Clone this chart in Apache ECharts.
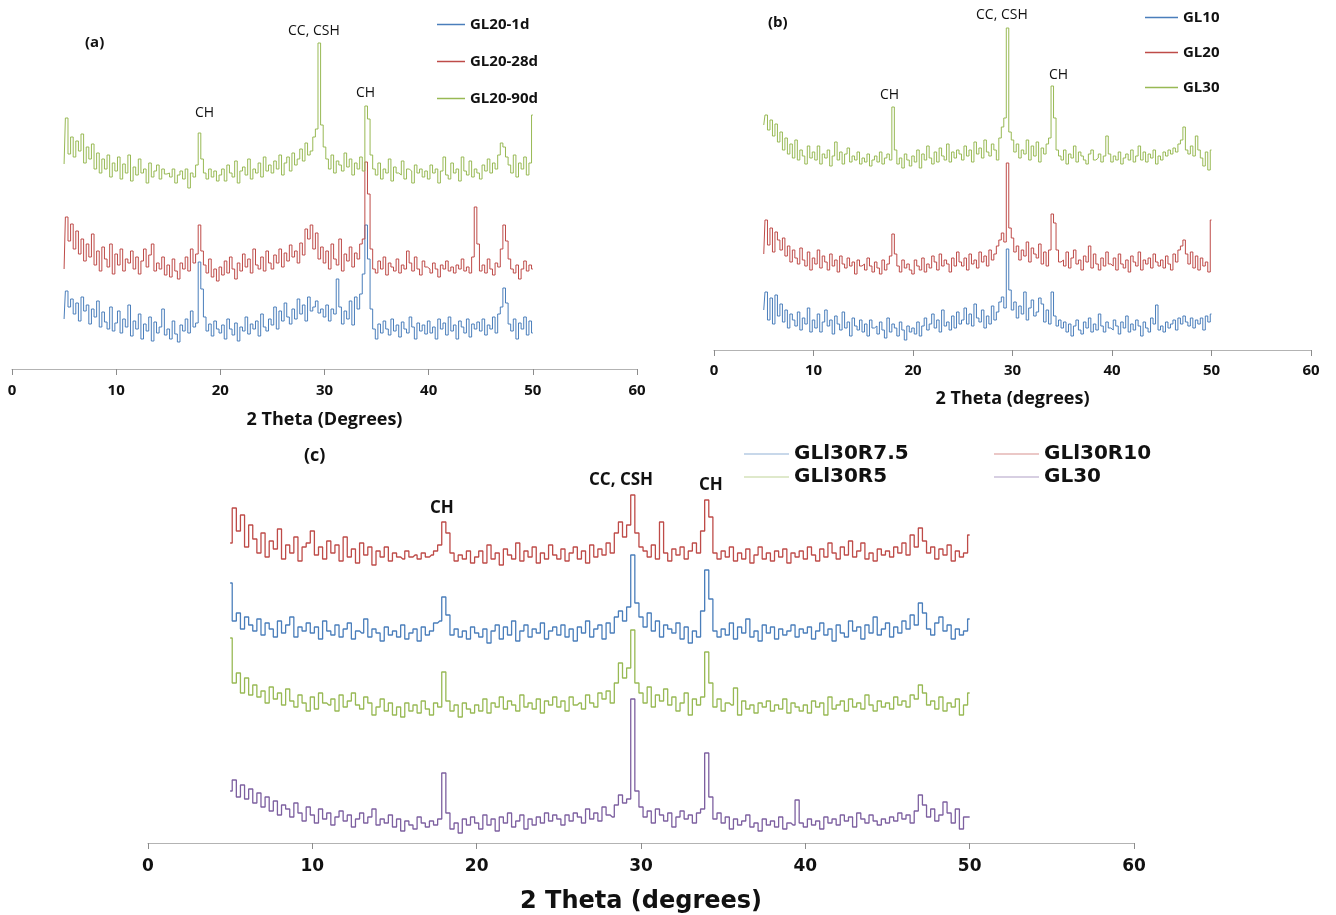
<!DOCTYPE html>
<html><head><meta charset="utf-8">
<script src="https://cdn.jsdelivr.net/npm/echarts@6/dist/echarts.min.js"></script>
<style>html,body{margin:0;padding:0;background:#fff}#c{width:1336px;height:915px}</style>
</head><body><div id="c"></div>
<script>
// 2-theta grid: 5..50 step 0.25 (181 points)
const THETA_START = 5, THETA_STEP = 0.25, THETA_COUNT = 181;
const xTicks = [0, 10, 20, 30, 40, 50, 60];

// Panel (a) – intensity (arbitrary, offset units)
const gl20_1d = [
50,78,62,70,55,66,48,72,58,64,45,60,52,68,42,57,47,40,62,38,
46,58,36,50,42,64,33,48,40,55,30,45,38,52,28,47,36,42,60,34,
40,30,48,35,27,44,38,50,36,58,42,46,107,80,52,38,45,33,48,40,
36,44,30,50,40,34,46,28,42,38,52,35,45,40,48,33,55,42,38,50,
44,62,40,58,48,66,52,45,60,50,70,55,64,48,72,58,62,68,56,60,
52,64,48,60,55,90,62,45,58,50,68,44,72,60,75,95,144,110,60,40,
30,45,36,48,40,34,50,38,44,32,47,40,36,52,42,30,46,38,44,35,
48,36,42,30,50,40,46,34,52,38,44,30,48,42,36,50,32,45,40,47,
38,50,34,44,40,52,36,55,62,81,66,45,38,50,30,46,40,52,34,48,
36];
const gl20_28d = [
100,152,128,145,120,138,115,130,108,125,112,135,104,118,98,122,110,102,125,95,
115,104,120,98,110,106,118,100,112,95,108,120,102,114,125,98,106,100,112,94,
104,92,110,98,90,106,100,112,98,120,106,115,144,118,104,96,110,92,100,88,
102,94,108,96,112,100,90,106,98,115,102,110,96,120,104,100,112,98,118,106,
100,114,106,120,102,116,108,124,112,118,106,126,114,140,130,144,120,136,110,122,
106,118,100,125,110,104,130,98,115,108,122,102,116,110,125,130,207,175,120,100,
96,108,100,112,94,106,102,98,110,96,104,100,118,106,98,112,100,94,108,102,
100,96,106,100,92,104,100,108,98,102,96,104,100,110,98,102,96,112,162,125,
98,104,96,110,100,94,106,102,120,144,128,110,100,96,104,90,100,108,98,104,
100];
const gl20_90d = [
205,251,215,232,212,228,218,235,206,222,210,225,200,216,196,210,200,214,192,206,
198,212,190,205,196,214,188,202,194,210,196,200,186,206,192,198,204,190,200,195,
196,192,200,186,194,198,190,200,181,196,192,204,236,210,196,190,200,192,198,188,
194,200,188,204,196,192,208,186,198,202,194,210,190,200,196,206,192,212,198,204,
196,208,200,214,194,206,212,198,216,204,210,220,208,226,214,218,232,240,326,244,
222,210,200,214,196,208,204,198,216,202,210,194,206,200,212,198,263,250,214,200,
194,206,190,200,196,210,188,202,196,194,208,190,200,198,186,204,196,200,192,198,
190,204,196,200,186,198,212,194,190,206,196,200,188,212,198,194,208,192,200,196,
190,204,198,210,196,206,200,214,226,222,212,204,196,214,192,206,200,212,194,206,
254];

// Panel (b)
const gl10 = [
40,58,30,52,26,55,34,46,28,40,22,36,30,24,38,20,32,26,42,18,
30,22,36,18,28,40,24,30,16,34,26,20,38,22,28,14,32,24,20,30,
18,26,14,30,22,24,16,28,20,12,32,18,26,22,14,28,20,10,24,18,
22,16,28,14,24,32,20,26,36,22,30,18,40,24,28,20,34,22,38,26,
30,42,26,36,24,46,32,28,40,22,34,26,44,30,38,48,53,42,101,60,
40,48,32,44,36,58,30,42,50,34,38,52,46,28,40,26,58,34,24,30,
22,28,18,26,14,24,30,20,16,28,22,32,18,26,20,36,24,18,28,22,
20,30,24,16,28,22,34,18,26,20,30,24,14,28,22,18,32,26,45,20,
24,18,28,22,26,30,20,32,26,34,28,24,32,22,30,26,32,20,34,28,
36];
const gl20 = [
96,130,105,122,98,118,110,100,112,94,104,88,100,92,86,102,90,84,98,80,
92,86,100,82,94,88,80,96,84,90,78,94,86,82,92,84,88,76,90,84,
86,80,92,84,78,88,82,76,90,80,86,94,116,96,84,78,90,82,86,80,
76,90,84,80,92,78,86,82,94,88,80,96,84,90,86,78,92,84,98,88,
84,92,80,96,86,90,82,98,88,94,84,100,90,96,104,110,117,108,187,122,
112,98,104,90,100,94,108,88,102,96,92,106,86,98,84,100,136,127,100,88,
90,84,98,82,92,100,86,90,80,94,88,104,82,96,86,80,92,84,98,86,
84,92,80,96,86,82,90,78,94,88,84,98,80,90,86,92,82,96,88,84,
90,82,94,86,80,96,88,100,104,110,96,86,98,82,94,80,92,84,88,78,
130];
const gl30b = [
225,235,220,230,214,226,208,218,200,212,196,206,192,210,190,200,194,186,204,192,
198,190,204,186,196,192,200,184,194,208,190,198,186,196,202,188,194,190,198,186,
192,188,196,184,190,194,188,198,186,192,196,190,243,200,186,192,182,196,190,184,
194,188,200,182,196,190,204,192,186,198,188,202,194,190,206,188,198,192,200,196,
190,204,194,200,188,208,196,202,192,210,198,194,206,200,190,212,223,232,322,218,
210,198,206,192,200,196,210,190,204,194,208,188,202,196,206,212,264,232,200,194,
190,200,186,196,192,204,188,198,194,190,186,196,200,190,192,196,188,194,214,196,
188,194,190,198,186,192,196,190,200,188,194,204,190,198,188,196,192,200,186,194,
190,198,194,200,196,202,198,206,210,223,200,196,204,194,214,200,192,184,198,180,
200];

// Panel (c)
const gl30c = [
52,63,46,58,44,54,40,50,36,46,32,42,28,38,34,26,40,30,22,36,
28,20,34,24,30,18,26,32,22,28,16,24,30,20,26,34,18,24,20,28,
16,24,12,22,18,14,26,20,16,22,18,24,70,30,14,20,10,24,18,26,
20,14,28,18,24,12,26,20,30,16,22,28,14,24,18,26,20,30,22,28,
24,18,28,22,30,26,20,34,24,30,22,36,28,26,38,48,40,44,144,52,
36,26,32,20,34,28,22,30,16,26,32,24,28,20,30,34,90,46,24,30,
20,26,14,24,18,22,28,16,20,12,24,18,22,16,26,14,20,18,43,20,
16,24,18,22,14,26,20,24,18,28,22,26,16,30,24,20,28,22,18,24,
20,26,22,30,24,28,20,32,48,38,26,34,22,28,41,30,20,34,14,26,
26];
const gll30r5 = [
205,160,170,150,165,148,158,146,152,140,156,144,150,138,154,142,136,148,140,132,
146,134,150,140,138,144,132,148,136,142,150,138,134,146,140,128,136,144,132,140,
128,136,126,140,132,138,130,142,134,128,140,136,171,142,132,138,126,140,134,130,
138,132,144,130,140,136,146,134,142,138,132,148,136,140,134,144,130,142,138,146,
136,142,132,146,138,140,134,148,140,136,150,144,152,140,160,180,165,175,213,160,
150,140,156,136,148,142,154,138,146,132,140,150,128,144,138,146,191,160,136,144,
132,140,138,155,128,142,134,138,130,140,136,142,132,138,134,144,130,140,136,132,
138,130,142,136,140,128,146,134,138,142,132,144,136,140,134,148,138,132,142,136,
140,134,146,138,142,136,148,144,158,150,138,142,134,146,132,140,136,144,128,138,
150];
const gll30r75 = [
260,222,230,214,226,218,212,224,208,220,214,206,222,210,218,226,206,216,212,220,
210,216,204,222,212,208,218,206,214,220,204,212,210,224,206,214,210,202,216,208,
212,206,218,204,210,214,202,216,208,212,220,222,246,228,208,214,206,212,204,216,
210,206,214,200,212,218,204,216,208,222,202,212,218,206,214,210,220,204,212,216,
208,218,206,214,202,216,210,222,206,214,218,204,220,210,226,232,222,236,288,240,
226,216,230,212,222,206,218,214,210,220,204,216,200,212,206,232,273,244,212,206,
214,208,220,204,216,210,224,206,212,202,218,210,216,204,214,208,212,218,206,214,
210,216,204,212,220,208,214,202,218,210,206,222,212,216,204,218,210,226,208,214,
220,206,216,210,222,214,228,218,240,230,214,208,220,226,212,218,204,214,208,212,
224];
const gll30r10 = [
300,335,312,328,296,318,304,290,310,286,302,294,314,284,298,290,306,282,296,300,
312,288,296,284,302,290,298,282,306,286,294,280,300,288,296,278,292,286,296,282,
290,286,284,292,286,288,284,290,286,288,292,298,321,310,290,282,288,284,292,280,
286,292,280,298,284,290,278,294,288,284,300,282,292,286,296,280,290,284,298,288,
284,294,282,290,296,284,292,280,298,286,294,288,300,290,310,321,306,318,348,310,
296,292,286,298,284,321,290,282,294,288,296,284,292,300,290,312,343,326,290,284,
292,286,296,282,290,284,294,280,288,296,284,290,282,292,286,294,280,290,286,292,
284,296,288,282,294,286,300,290,284,296,288,302,286,292,300,284,290,282,294,288,
292,286,296,290,300,288,308,296,315,302,290,296,284,294,288,298,282,292,286,290,
308];

const C_BLUE = '#4a7ebb', C_RED = '#be4b48', C_GREEN = '#98b954', C_PURPLE = '#7d60a0';

const theta = [];
for (let i = 0; i < THETA_COUNT; i++) theta.push(+(THETA_START + i * THETA_STEP).toFixed(2));
const pairs = arr => arr.map((v, i) => [theta[i], v]);

const fontAB = 'Open Sans';
const fontC = 'DejaVu Sans';

function xAxis(gi, title, fs, ff, nameFs, margin, nameGap) {
  return {
    gridIndex: gi, type: 'value', min: 0, max: 60, interval: 10,
    axisLine: { show: true, lineStyle: { color: '#b3b3b3', width: 1.2 } },
    axisTick: { show: true, length: 6, lineStyle: { color: '#8c8c8c' } },
    splitLine: { show: false },
    axisLabel: { fontFamily: ff, fontWeight: 'bold', fontSize: fs, color: '#111', margin: margin,
      formatter: v => xTicks.includes(v) ? String(v) : '' },
    name: title, nameLocation: 'middle', nameGap: nameGap,
    nameTextStyle: { fontFamily: ff, fontWeight: 'bold', fontSize: nameFs, color: '#111' }
  };
}
function yAxis(gi, max) {
  return { gridIndex: gi, type: 'value', min: 0, max: max, show: false, splitLine: { show: false } };
}
function line(name, data, color, xi, w) {
  return { name, type: 'line', xAxisIndex: xi, yAxisIndex: xi, data: pairs(data),
    showSymbol: false, symbol: 'none', smooth: false, step: 'middle', animation: false,
    lineStyle: { color, width: w }, itemStyle: { color } };
}
function txt(x, y, s, fs, ff, bold) {
  return { type: 'text', left: x, top: y, style: { text: s, fill: '#111', font: (bold ? 'bold ' : '') + fs + 'px "' + ff + '"' } };
}

const chart = echarts.init(document.getElementById('c'), null, { renderer: 'canvas' });
chart.setOption({
  animation: false,
  backgroundColor: '#fff',
  grid: [
    { left: 12, top: 19, width: 625, height: 350 },
    { left: 714, top: 0, width: 597, height: 350 },
    { left: 148, top: 483, width: 986, height: 360 }
  ],
  xAxis: [
    xAxis(0, '2 Theta (Degrees)', 15, fontAB, 18, 14, 42),
    xAxis(1, '2 Theta (degrees)', 15, fontAB, 18, 13, 40),
    xAxis(2, '2 Theta (degrees)', 17, fontC, 24, 15, 47)
  ],
  yAxis: [yAxis(0, 350), yAxis(1, 350), yAxis(2, 360)],
  legend: [
    { data: ['GL20-1d', 'GL20-28d', 'GL20-90d'], orient: 'vertical', left: 432, top: 12, itemGap: 22,
      icon: 'rect', itemWidth: 28, itemHeight: 1.5,
      textStyle: { fontFamily: fontAB, fontWeight: 'bold', fontSize: 15, color: '#111' } },
    { data: ['GL10', 'GL20', 'GL30 '], orient: 'vertical', left: 1140, top: 5, itemGap: 20,
      icon: 'rect', itemWidth: 33, itemHeight: 1.5,
      textStyle: { fontFamily: fontAB, fontWeight: 'bold', fontSize: 15, color: '#111' } },
    { data: ['GLl30R7.5', 'GLl30R5'], orient: 'vertical', left: 739, top: 439, itemGap: 3,
      icon: 'rect', itemWidth: 45, itemHeight: 1, itemStyle: { opacity: 0.6 },
      textStyle: { fontFamily: fontC, fontWeight: 'bold', fontSize: 20, color: '#111' } },
    { data: ['GLl30R10', 'GL30'], orient: 'vertical', left: 989, top: 439, itemGap: 3,
      icon: 'rect', itemWidth: 45, itemHeight: 1, itemStyle: { opacity: 0.6 },
      textStyle: { fontFamily: fontC, fontWeight: 'bold', fontSize: 20, color: '#111' } }
  ],
  series: [
    line('GL20-1d', gl20_1d, C_BLUE, 0, 1),
    line('GL20-28d', gl20_28d, C_RED, 0, 1),
    line('GL20-90d', gl20_90d, C_GREEN, 0, 1),
    line('GL10', gl10, C_BLUE, 1, 1),
    line('GL20', gl20, C_RED, 1, 1),
    line('GL30 ', gl30b, C_GREEN, 1, 1),
    line('GLl30R10', gll30r10, C_RED, 2, 1.3),
    line('GLl30R7.5', gll30r75, C_BLUE, 2, 1.3),
    line('GLl30R5', gll30r5, C_GREEN, 2, 1.3),
    line('GL30', gl30c, C_PURPLE, 2, 1.3)
  ],
  graphic: [
    txt(85, 35, '(a)', 15, fontAB, true),
    txt(195, 106, 'CH', 14, fontAB, false),
    txt(288, 24, 'CC, CSH', 14, fontAB, false),
    txt(356, 86, 'CH', 14, fontAB, false),
    txt(768, 15, '(b)', 15, fontAB, true),
    txt(880, 88, 'CH', 14, fontAB, false),
    txt(976, 8, 'CC, CSH', 14, fontAB, false),
    txt(1049, 68, 'CH', 14, fontAB, false),
    txt(304, 447, '(c)', 18, fontAB, true),
    txt(430, 500, 'CH', 17, fontAB, true),
    txt(589, 472, 'CC, CSH', 17, fontAB, true),
    txt(699, 477, 'CH', 17, fontAB, true)
  ]
});
</script></body></html>
